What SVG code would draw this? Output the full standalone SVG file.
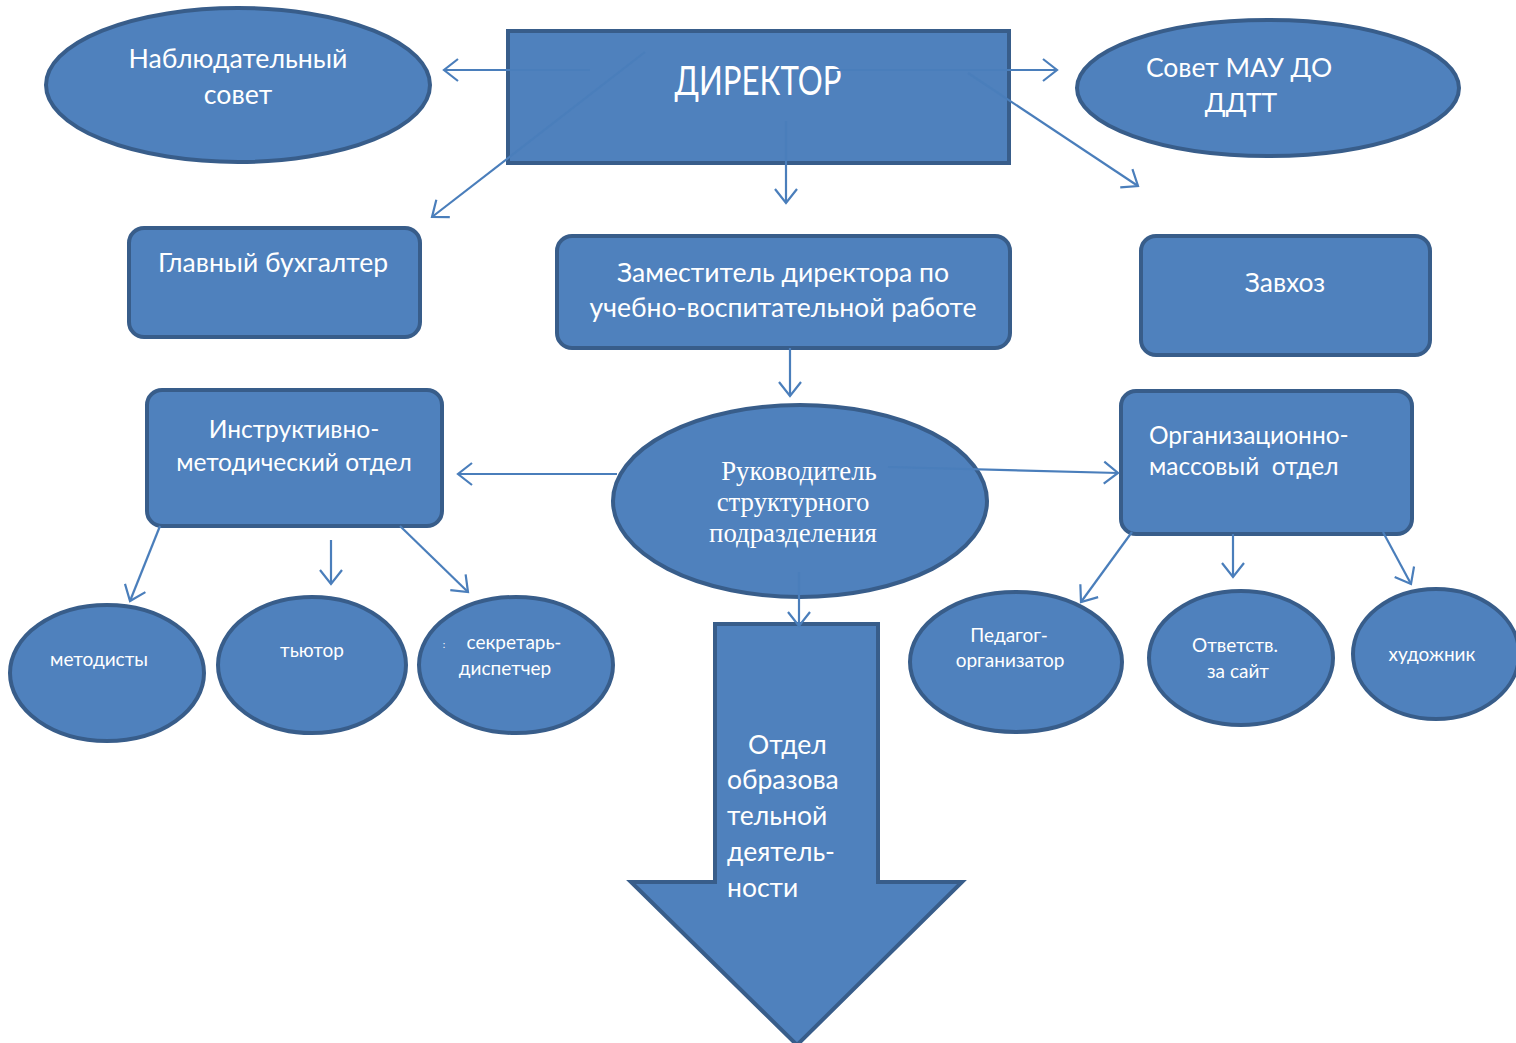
<svg xmlns="http://www.w3.org/2000/svg" width="1516" height="1043" viewBox="0 0 1516 1043">
<defs>
<style>
.n{fill:#4F81BD;stroke:#385D8A;stroke-width:4}
.t{fill:#fff;font-family:Lato,"Liberation Sans",sans-serif;text-anchor:middle}
.s{fill:#fff;font-family:"Liberation Serif",serif;text-anchor:middle;font-size:26.8px}
.c{stroke:#4A7EBB;stroke-width:2.2;fill:none;marker-end:url(#a)}
</style>
<marker id="a" markerUnits="userSpaceOnUse" markerWidth="20" markerHeight="26" refX="16" refY="13" orient="auto">
<path d="M2,2 L16,13 L2,24" fill="none" stroke="#4A7EBB" stroke-width="2.2"/>
</marker>
</defs>
<rect width="1516" height="1043" fill="#fff"/>

<g id="nablyud">
<ellipse class="n" cx="238" cy="85" rx="192" ry="77"/>
<text class="t" font-size="26.7"><tspan x="238" y="68">Наблюдательный</tspan><tspan x="238" y="104">совет</tspan></text>
</g>
<g id="director">
<rect class="n" x="508" y="31" width="501" height="132"/>
<text class="t" x="758" y="95" font-size="40" textLength="167" lengthAdjust="spacingAndGlyphs">ДИРЕКТОР</text>
</g>
<g id="sovet">
<ellipse class="n" cx="1268" cy="88" rx="191" ry="68"/>
<text class="t" font-size="26.5"><tspan x="1239" y="77">Совет МАУ ДО</tspan><tspan x="1241" y="112">ДДТТ</tspan></text>
</g>
<g id="buh">
<rect class="n" x="129" y="228" width="291" height="109" rx="15"/>
<text class="t" x="273" y="272" font-size="26.5">Главный бухгалтер</text>
</g>
<g id="zam">
<rect class="n" x="557" y="236" width="453" height="112" rx="15"/>
<text class="t" font-size="26.6"><tspan x="783" y="282">Заместитель директора по</tspan><tspan x="783" y="317">учебно-воспитательной работе</tspan></text>
</g>
<g id="zavhoz">
<rect class="n" x="1141" y="236" width="289" height="119" rx="15"/>
<text class="t" x="1285" y="292" font-size="26.5">Завхоз</text>
</g>
<g id="instr">
<rect class="n" x="147" y="390" width="295" height="136" rx="15"/>
<text class="t" font-size="24.5"><tspan x="294" y="438">Инструктивно-</tspan><tspan x="294" y="471">методический отдел</tspan></text>
</g>
<g id="ruk">
<ellipse class="n" cx="800" cy="501" rx="187" ry="96"/>
<text class="s"><tspan x="799" y="480">Руководитель</tspan><tspan x="793" y="511">структурного</tspan><tspan x="793" y="542">подразделения</tspan></text>
</g>
<g id="org">
<rect class="n" x="1121" y="391" width="291" height="143" rx="15"/>
<text class="t" font-size="24.5" style="text-anchor:start;white-space:pre"><tspan x="1149" y="444">Организационно-</tspan><tspan x="1149" y="475">массовый  отдел</tspan></text>
</g>
<g id="metod">
<ellipse class="n" cx="107" cy="673" rx="97" ry="68"/>
<text class="t" x="99" y="666" font-size="19">методисты</text>
</g>
<g id="tutor">
<ellipse class="n" cx="312" cy="665" rx="94" ry="68"/>
<text class="t" x="312" y="657" font-size="19">тьютор</text>
</g>
<g id="sekr">
<ellipse class="n" cx="516" cy="665" rx="97" ry="68"/>
<text class="t" x="444" y="648" font-size="10">:</text>
<text class="t" font-size="19"><tspan x="514" y="649">секретарь-</tspan><tspan x="505" y="675">диспетчер</tspan></text>
</g>
<g id="pedag">
<ellipse class="n" cx="1016" cy="662" rx="106" ry="70"/>
<text class="t" font-size="19"><tspan x="1009" y="642">Педагог-</tspan><tspan x="1010" y="667">организатор</tspan></text>
</g>
<g id="otv">
<ellipse class="n" cx="1241" cy="658" rx="92" ry="67"/>
<text class="t" font-size="19"><tspan x="1235" y="652">Ответств.</tspan><tspan x="1238" y="678">за сайт</tspan></text>
</g>
<g id="hud">
<ellipse class="n" cx="1436" cy="654" rx="83" ry="65"/>
<text class="t" x="1432" y="661" font-size="19">художник</text>
</g>
<g id="otdel">
<polygon class="n" points="715,624 878,624 878,882 962,882 797,1045 631,882 715,882"/>
<text class="t" font-size="26.5" style="text-anchor:start"><tspan x="748" y="754">Отдел</tspan><tspan x="727" y="789">образова</tspan><tspan x="727" y="825">тельной</tspan><tspan x="727" y="861">деятель-</tspan><tspan x="727" y="897">ности</tspan></text>
</g>

<g id="connectors">
<line class="c" x1="590" y1="70" x2="444" y2="70"/>
<line class="c" x1="645" y1="52" x2="432" y2="217"/>
<line class="c" x1="830" y1="70" x2="1057" y2="70"/>
<line class="c" x1="968" y1="73" x2="1138" y2="186"/>
<line class="c" x1="786" y1="121" x2="786" y2="203"/>
<line class="c" x1="790" y1="348" x2="790" y2="396"/>
<line class="c" x1="617" y1="474" x2="458" y2="474"/>
<line class="c" x1="888" y1="467" x2="1118" y2="473"/>
<line class="c" x1="799" y1="572" x2="799" y2="626"/>
<line class="c" x1="160" y1="526" x2="130" y2="601"/>
<line class="c" x1="331" y1="540" x2="331" y2="584"/>
<line class="c" x1="400" y1="526" x2="468" y2="592"/>
<line class="c" x1="1132" y1="532" x2="1081" y2="602"/>
<line class="c" x1="1233" y1="534" x2="1233" y2="577"/>
<line class="c" x1="1383" y1="532" x2="1411" y2="584"/>
</g>
</svg>
